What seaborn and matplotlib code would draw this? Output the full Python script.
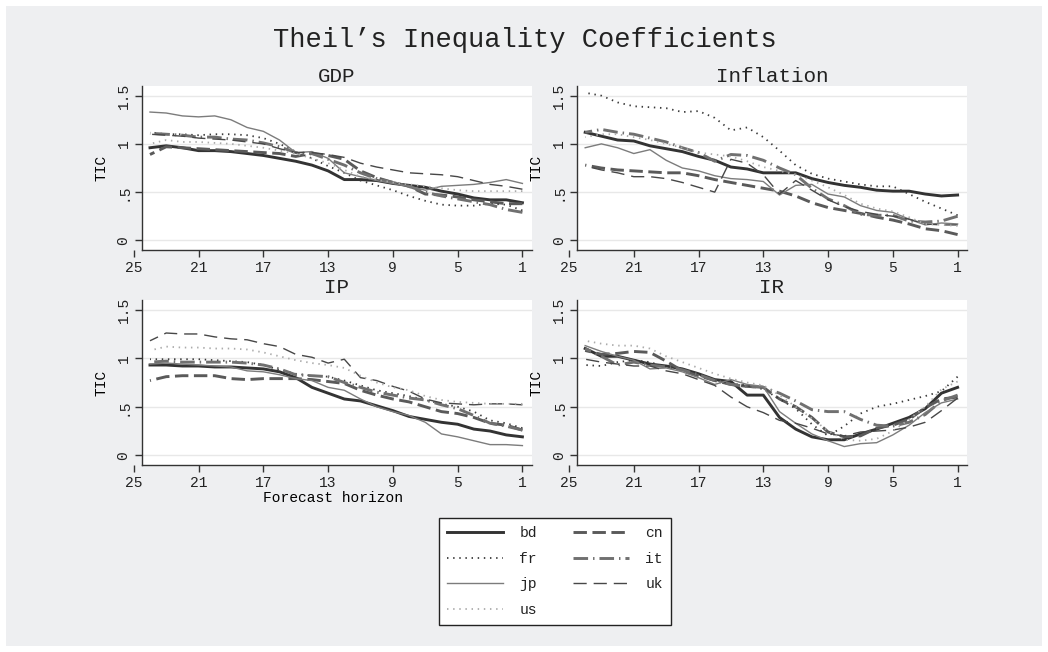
import matplotlib
matplotlib.use("Agg")
import matplotlib.pyplot as plt
from matplotlib.lines import Line2D
from matplotlib.patches import Rectangle
import pandas as pd
import seaborn as sns

# forecast horizons, drawn from 24 down to 1
horizon = list(range(24, 0, -1))
countries = ["bd", "cn", "fr", "it", "jp", "uk", "us"]

gdp = {
    "bd": [0.96, 0.98, 0.96, 0.93, 0.93, 0.92, 0.90, 0.88, 0.85, 0.82, 0.78, 0.72, 0.63, 0.63, 0.62, 0.59, 0.57, 0.55, 0.51, 0.48, 0.44, 0.42, 0.42, 0.39],
    "cn": [0.89, 0.97, 0.96, 0.95, 0.94, 0.93, 0.92, 0.91, 0.90, 0.87, 0.90, 0.88, 0.84, 0.72, 0.65, 0.60, 0.56, 0.48, 0.47, 0.45, 0.42, 0.40, 0.38, 0.38],
    "fr": [1.12, 1.10, 1.10, 1.09, 1.10, 1.10, 1.09, 1.06, 1.00, 0.92, 0.85, 0.77, 0.70, 0.62, 0.57, 0.52, 0.46, 0.41, 0.37, 0.36, 0.36, 0.38, 0.37, 0.31],
    "it": [1.11, 1.10, 1.09, 1.07, 1.07, 1.05, 1.04, 1.01, 0.97, 0.91, 0.90, 0.84, 0.78, 0.70, 0.64, 0.60, 0.56, 0.50, 0.46, 0.43, 0.40, 0.37, 0.32, 0.29],
    "jp": [1.33, 1.32, 1.29, 1.28, 1.29, 1.25, 1.17, 1.13, 1.04, 0.91, 0.92, 0.85, 0.70, 0.66, 0.62, 0.59, 0.56, 0.52, 0.56, 0.57, 0.58, 0.60, 0.63, 0.59],
    "uk": [1.10, 1.09, 1.08, 1.06, 1.05, 1.04, 1.02, 1.00, 0.95, 0.91, 0.91, 0.89, 0.86, 0.80, 0.76, 0.73, 0.70, 0.69, 0.68, 0.66, 0.62, 0.58, 0.56, 0.53],
    "us": [1.00, 1.04, 1.02, 1.02, 1.01, 1.00, 0.98, 0.96, 0.93, 0.90, 0.85, 0.80, 0.73, 0.66, 0.63, 0.60, 0.58, 0.56, 0.54, 0.52, 0.51, 0.51, 0.51, 0.51],
}

inflation = {
    "bd": [1.12, 1.08, 1.04, 1.03, 0.98, 0.95, 0.92, 0.87, 0.83, 0.76, 0.74, 0.70, 0.70, 0.70, 0.64, 0.60, 0.57, 0.55, 0.52, 0.51, 0.51, 0.48, 0.46, 0.47],
    "cn": [0.78, 0.75, 0.73, 0.72, 0.71, 0.70, 0.70, 0.67, 0.63, 0.60, 0.57, 0.54, 0.51, 0.46, 0.39, 0.34, 0.31, 0.28, 0.24, 0.21, 0.17, 0.12, 0.10, 0.06],
    "fr": [1.53, 1.50, 1.43, 1.39, 1.38, 1.37, 1.33, 1.34, 1.27, 1.14, 1.17, 1.07, 0.93, 0.78, 0.69, 0.64, 0.61, 0.58, 0.56, 0.56, 0.48, 0.40, 0.33, 0.26],
    "it": [1.12, 1.15, 1.12, 1.10, 1.06, 1.02, 0.96, 0.91, 0.82, 0.89, 0.88, 0.83, 0.75, 0.68, 0.54, 0.43, 0.36, 0.27, 0.26, 0.26, 0.20, 0.19, 0.20, 0.25],
    "jp": [0.96, 1.00, 0.96, 0.90, 0.94, 0.83, 0.75, 0.72, 0.67, 0.64, 0.63, 0.61, 0.47, 0.57, 0.58, 0.48, 0.45, 0.36, 0.31, 0.29, 0.22, 0.16, 0.18, 0.17],
    "uk": [0.77, 0.73, 0.70, 0.66, 0.66, 0.64, 0.60, 0.55, 0.50, 0.84, 0.80, 0.68, 0.48, 0.62, 0.52, 0.42, 0.35, 0.30, 0.27, 0.25, 0.22, 0.17, 0.16, 0.16],
    "us": [1.07, 1.10, 1.10, 1.07, 1.04, 1.00, 0.96, 0.91, 0.89, 0.87, 0.82, 0.76, 0.72, 0.68, 0.62, 0.55, 0.47, 0.38, 0.33, 0.30, 0.24, 0.17, 0.16, 0.15],
}

ip = {
    "bd": [0.93, 0.93, 0.92, 0.92, 0.91, 0.91, 0.90, 0.89, 0.86, 0.80, 0.70, 0.64, 0.58, 0.56, 0.51, 0.46, 0.40, 0.37, 0.34, 0.32, 0.27, 0.25, 0.21, 0.19],
    "cn": [0.77, 0.81, 0.82, 0.82, 0.82, 0.79, 0.78, 0.79, 0.79, 0.79, 0.78, 0.76, 0.74, 0.67, 0.62, 0.58, 0.55, 0.50, 0.45, 0.43, 0.39, 0.33, 0.31, 0.26],
    "fr": [0.99, 0.99, 0.99, 0.99, 0.98, 0.97, 0.96, 0.93, 0.88, 0.84, 0.82, 0.81, 0.77, 0.72, 0.67, 0.64, 0.61, 0.57, 0.53, 0.50, 0.45, 0.36, 0.33, 0.28],
    "it": [0.96, 0.97, 0.96, 0.96, 0.96, 0.96, 0.95, 0.93, 0.89, 0.83, 0.82, 0.81, 0.75, 0.70, 0.65, 0.62, 0.59, 0.57, 0.52, 0.48, 0.41, 0.33, 0.30, 0.26],
    "jp": [0.94, 0.95, 0.94, 0.93, 0.92, 0.91, 0.87, 0.86, 0.83, 0.79, 0.77, 0.70, 0.67, 0.58, 0.50, 0.45, 0.41, 0.34, 0.22, 0.19, 0.15, 0.11, 0.11, 0.10],
    "uk": [1.18, 1.26, 1.25, 1.25, 1.22, 1.20, 1.19, 1.15, 1.12, 1.04, 1.01, 0.95, 0.99, 0.80, 0.77, 0.71, 0.66, 0.58, 0.54, 0.53, 0.52, 0.53, 0.53, 0.52],
    "us": [1.08, 1.12, 1.11, 1.11, 1.10, 1.10, 1.09, 1.06, 1.02, 0.98, 0.95, 0.93, 0.90, 0.82, 0.75, 0.70, 0.67, 0.61, 0.57, 0.55, 0.54, 0.53, 0.53, 0.53],
}

ir = {
    "bd": [1.10, 1.02, 1.02, 0.98, 0.94, 0.92, 0.89, 0.84, 0.78, 0.76, 0.62, 0.62, 0.39, 0.27, 0.19, 0.16, 0.16, 0.22, 0.27, 0.33, 0.39, 0.48, 0.64, 0.70],
    "cn": [1.08, 1.04, 1.05, 1.07, 1.06, 0.97, 0.87, 0.82, 0.77, 0.73, 0.71, 0.70, 0.58, 0.50, 0.39, 0.24, 0.19, 0.20, 0.28, 0.31, 0.37, 0.49, 0.58, 0.60],
    "fr": [0.93, 0.92, 0.96, 0.98, 0.96, 0.91, 0.88, 0.83, 0.78, 0.74, 0.72, 0.68, 0.58, 0.48, 0.32, 0.20, 0.30, 0.43, 0.50, 0.53, 0.57, 0.61, 0.66, 0.81],
    "it": [1.10, 1.02, 0.93, 0.96, 0.93, 0.91, 0.88, 0.83, 0.77, 0.73, 0.71, 0.70, 0.64, 0.56, 0.47, 0.45, 0.45, 0.37, 0.31, 0.30, 0.34, 0.42, 0.56, 0.62],
    "jp": [1.13, 1.07, 1.02, 0.98, 0.89, 0.90, 0.86, 0.80, 0.73, 0.78, 0.73, 0.71, 0.45, 0.33, 0.22, 0.15, 0.09, 0.12, 0.13, 0.21, 0.31, 0.44, 0.54, 0.58],
    "uk": [0.99, 0.96, 0.94, 0.92, 0.92, 0.87, 0.84, 0.78, 0.72, 0.60, 0.50, 0.44, 0.36, 0.33, 0.28, 0.22, 0.20, 0.24, 0.25, 0.26, 0.29, 0.34, 0.46, 0.59],
    "us": [1.18, 1.15, 1.13, 1.13, 1.10, 1.02, 0.96, 0.90, 0.84, 0.79, 0.75, 0.72, 0.62, 0.50, 0.38, 0.25, 0.16, 0.15, 0.17, 0.25, 0.37, 0.50, 0.68, 0.76],
}

xticks = [25, 21, 17, 13, 9, 5, 1]
yticks = [0, 0.5, 1, 1.5]
ytick_labels = ["0", ".5", "1", "1.5"]

# line look per country (stata s2mono-ish)
palette = {"bd": "#333333", "cn": "#5a5a5a", "fr": "#3a3a3a", "it": "#707070",
           "jp": "#7c7c7c", "uk": "#474747", "us": "#ababab"}
widths = {"bd": 2.1, "cn": 2.1, "fr": 1.3, "it": 2.1, "jp": 1.0, "uk": 1.0, "us": 1.3}
dashes = {"bd": "", "cn": (4.6, 1.9), "fr": (0.8, 2.6), "it": (5.0, 1.7, 0.5, 1.7),
          "jp": "", "uk": (9.5, 5.0), "us": (0.8, 2.6)}

BG = "#eeeff1"
FONT = "Liberation Mono"
W, H = 1048, 652

plt.rcParams["font.family"] = FONT
plt.rcParams["text.color"] = "#222222"

fig = plt.figure(figsize=(W / 100, H / 100), dpi=100, facecolor="white")
fig.patches.append(Rectangle((6 / W, 6 / H), 1 - 12 / W, 1 - 12 / H, transform=fig.transFigure,
                             facecolor=BG, edgecolor="none", zorder=-10))

# panel boxes in pixels: left (at x=25), top, width, height
panels = [
    ("GDP", gdp, (133.8, 86, 398, 164)),
    ("Inflation", inflation, (569, 86, 398, 164)),
    ("IP", ip, (133.8, 300, 398, 165)),
    ("IR", ir, (569, 300, 398, 165)),
]

x_lo, x_hi = 24.52, 0.42   # plot region in data units

for i, (name, values, (px, py, pw, ph)) in enumerate(panels):
    ax = fig.add_axes([px / W, 1 - (py + ph) / H, pw / W, ph / H])
    ax.patch.set_visible(False)
    ax.axvspan(x_lo, x_hi, color="white", zorder=0, lw=0)

    df = pd.DataFrame([
        {"horizon": h, "TIC": v, "country": c}
        for c in countries for h, v in zip(horizon, values[c])
    ])
    sns.lineplot(data=df, x="horizon", y="TIC", hue="country", style="country",
                 size="country", hue_order=countries, style_order=countries,
                 size_order=countries, palette=palette, dashes=dashes, sizes=widths,
                 legend=False, ax=ax)

    ax.set_xlim(25, 0.42)
    ax.set_ylim(-0.1, 1.6)
    ax.set_xticks(xticks)
    ax.set_xticklabels([str(t) for t in xticks])
    ax.set_yticks(yticks)
    ax.set_yticklabels(ytick_labels)
    ax.yaxis.grid(True, color="#e8e8e8", lw=1.0)
    ax.set_axisbelow(True)

    for s in ["top", "right"]:
        ax.spines[s].set_visible(False)
    ax.spines["left"].set_position(("data", x_lo))
    ax.spines["bottom"].set_bounds(x_lo, x_hi)
    for s in ["left", "bottom"]:
        ax.spines[s].set_color("#333333")
        ax.spines[s].set_linewidth(1.0)
    ax.tick_params(axis="both", direction="out", length=5, width=1, color="#333333",
                   labelsize=10.5, labelcolor="#222222", pad=3)
    ax.tick_params(axis="y", labelrotation=90)
    for lab in ax.get_yticklabels():
        lab.set_va("center")

    ax.set_ylabel("TIC", fontsize=10.5, labelpad=6)
    if name == "IP":
        ax.set_xlabel("Forecast horizon", fontsize=10.5, labelpad=1)
    else:
        ax.set_xlabel("")

    mid = ((25 - x_lo) + (x_lo - x_hi) / 2) / (25 - x_hi)
    ax.set_title(name, fontsize=15, x=mid, pad=3 if i < 2 else 5, color="#222222")

fig.text(0.501, 1 - 40 / H, "Theil\u2019s Inequality Coefficients", ha="center", va="center",
         fontsize=19.5, color="#222222")

# legend: stata fills rows, matplotlib fills columns
order = ["bd", "fr", "jp", "us", "cn", "it", "uk"]
handles = []
for c in order:
    ln = Line2D([], [], color=palette[c], lw=widths[c])
    if dashes[c]:
        ln.set_dashes(dashes[c])
    handles.append(ln)
leg = fig.legend(handles, order, loc="center", bbox_to_anchor=(555 / W, 1 - 571.5 / H),
                 ncol=2, frameon=True, fancybox=False, edgecolor="#222222", facecolor="white",
                 framealpha=1, prop={"family": FONT, "size": 10.5}, handlelength=3.8,
                 handletextpad=1.15, columnspacing=2.5, labelspacing=0.8, borderpad=0.55)
leg.get_frame().set_linewidth(1.0)

fig.savefig("out.png", dpi=100, facecolor=fig.get_facecolor())
